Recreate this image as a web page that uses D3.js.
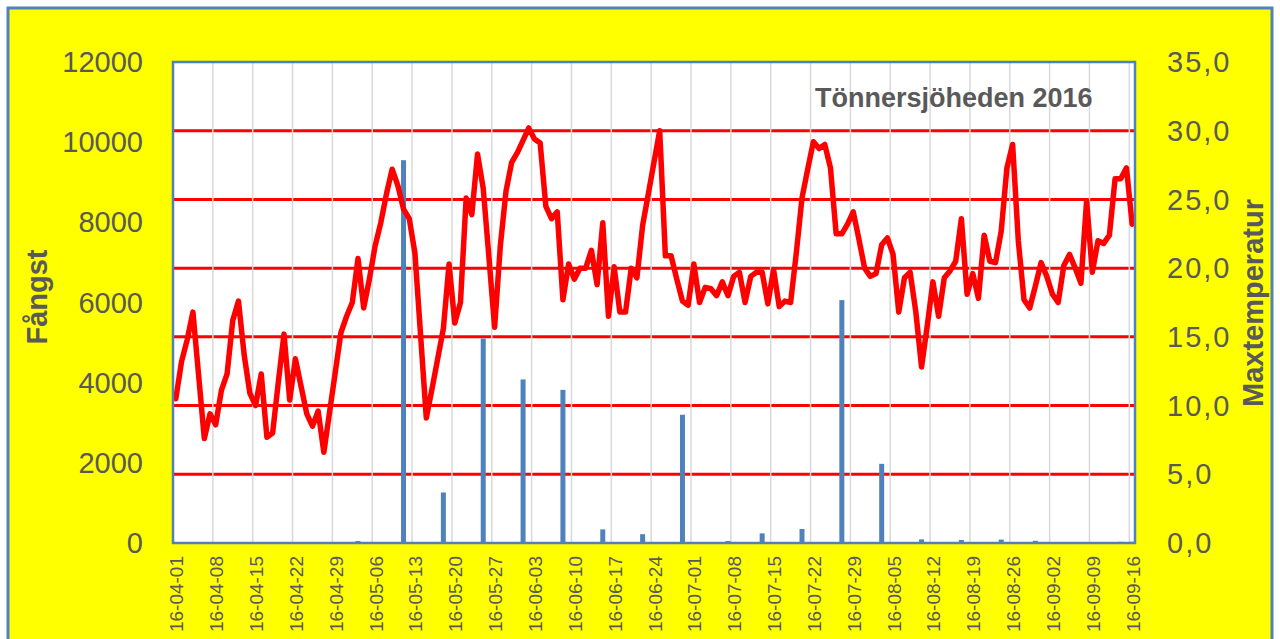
<!DOCTYPE html>
<html>
<head>
<meta charset="utf-8">
<script src="https://cdnjs.cloudflare.com/ajax/libs/d3/7.8.5/d3.min.js"></script>
<style>
  body { margin: 0; background: #ffffff; }
  text { font-family: "Liberation Sans", Arial, sans-serif; fill: #595959; }
</style>
</head>
<body>
<svg id="chart" width="1280" height="639"></svg>
<script>

// daily max temperature, one array per month (°C)
var tempApr = [10.5, 13.2, 14.8, 16.8, 12.2, 7.6, 9.4, 8.6, 11.1, 12.3,
  16.2, 17.6, 13.7, 10.9, 10.0, 12.3, 7.7, 8.0, 11.7, 15.2,
  10.4, 13.4, 11.4, 9.4, 8.5, 9.6, 6.6, 9.5, 12.4, 15.3];
var tempMay = [16.5, 17.5, 20.7, 17.1, 19.2, 21.6, 23.3, 25.4, 27.2, 26.0,
  24.3, 23.6, 21.1, 15.1, 9.1, 11.2, 13.4, 15.6, 20.3, 16.0,
  17.5, 25.1, 23.9, 28.3, 25.8, 20.8, 15.7, 21.6, 25.6, 27.7, 28.4];
var tempJun = [29.3, 30.2, 29.4, 29.1, 24.5, 23.6, 24.1, 17.7, 20.3, 19.2,
  20.0, 20.0, 21.3, 18.8, 23.3, 16.5, 20.1, 16.8, 16.8, 20.0,
  19.3, 23.1, 25.4, 27.7, 30.0, 20.9, 20.9, 19.2, 17.6, 17.3];
var tempJul = [20.3, 17.5, 18.6, 18.5, 18.0, 19.0, 18.0, 19.4, 19.7, 17.5,
  19.4, 19.7, 19.7, 17.4, 19.9, 17.2, 17.6, 17.5, 21.1, 25.1,
  27.2, 29.2, 28.7, 29.0, 27.3, 22.5, 22.5, 23.2, 24.1, 22.1, 20.0];
var tempAug = [19.4, 19.6, 21.7, 22.2, 21.0, 16.8, 19.3, 19.7, 16.8, 12.8,
  15.8, 19.0, 16.5, 19.3, 19.8, 20.5, 23.6, 18.1, 19.6, 17.8,
  22.4, 20.5, 20.4, 22.7, 27.3, 29.0, 22.0, 17.7, 17.1, 18.7, 20.4];
var tempSep = [19.4, 18.1, 17.5, 20.2, 21.0, 20.0, 18.9, 24.9, 19.7, 22.0,
  21.8, 22.4, 26.5, 26.5, 27.3, 23.2];

// catch (Fångst), only the days with a value
var catchDates = ["2016-04-13", "2016-04-20", "2016-05-03", "2016-05-11", "2016-05-18",
  "2016-05-25", "2016-06-01", "2016-06-08", "2016-06-15", "2016-06-22", "2016-06-29",
  "2016-07-07", "2016-07-13", "2016-07-20", "2016-07-27", "2016-08-03", "2016-08-10",
  "2016-08-17", "2016-08-24", "2016-08-30", "2016-09-14", "2016-09-16"];
var catchValues = [25, 25, 50, 9550, 1260, 5100, 4080, 3820, 340, 220, 3200,
  50, 240, 350, 6060, 1975, 90, 75, 85, 55, 30, 30];

var startDate = "2016-04-01";
var endDate = "2016-09-16";
var leftTicks = [0, 2000, 4000, 6000, 8000, 10000, 12000];
var rightTicks = [0, 5, 10, 15, 20, 25, 30, 35];
var gridTemps = [5, 10, 15, 20, 25, 30];

var chartTitle = "Tönnersjöheden 2016";
var leftTitle = "Fångst";
var rightTitle = "Maxtemperatur";

var parseDate = d3.utcParse("%Y-%m-%d");
var formatDate = d3.utcFormat("%y-%m-%d");
var formatTemp = d3.formatLocale({ decimal: ",", thousands: " ", grouping: [3], currency: ["", ""] }).format(".1f");

var start = parseDate(startDate);
var end = parseDate(endDate);
var days = d3.utcDay.range(start, d3.utcDay.offset(end, 1));
var temps = tempApr.concat(tempMay, tempJun, tempJul, tempAug, tempSep);

var tempData = days.map(function (d, i) { return { date: d, temp: temps[i] }; });
var catchData = catchDates.map(function (d, i) { return { date: parseDate(d), value: catchValues[i] }; });

var plotL = 173, plotR = 1135, plotT = 62, plotB = 543;

var svg = d3.select("#chart");

// yellow chart area with blue frame
svg.append("rect")
  .attr("x", 8).attr("y", 8)
  .attr("width", 1264).attr("height", 650)
  .attr("fill", "#ffff00")
  .attr("stroke", "#4f81bd")
  .attr("stroke-width", 3);

var x = d3.scaleUtc()
  .domain([start, d3.utcDay.offset(end, 1)])
  .range([plotL, plotR]);
var half = (x(d3.utcDay.offset(start, 1)) - x(start)) / 2;

var yLeft = d3.scaleLinear().domain([0, 12000]).range([plotB, plotT]);
var yRight = d3.scaleLinear().domain([0, 35]).range([plotB, plotT]);

// plot area
svg.append("rect")
  .attr("x", plotL).attr("y", plotT)
  .attr("width", plotR - plotL).attr("height", plotB - plotT)
  .attr("fill", "#ffffff");

svg.append("g")
  .selectAll("line")
  .data(gridTemps)
  .enter().append("line")
  .attr("x1", plotL).attr("x2", plotR)
  .attr("y1", function (d) { return yRight(d); })
  .attr("y2", function (d) { return yRight(d); })
  .attr("stroke", "#ff0000")
  .attr("stroke-width", 3);

var tickDates = d3.utcDay.range(start, d3.utcDay.offset(end, 1), 7);

svg.append("g")
  .selectAll("line")
  .data(tickDates)
  .enter().append("line")
  .attr("x1", function (d) { return x(d); })
  .attr("x2", function (d) { return x(d); })
  .attr("y1", plotT).attr("y2", plotB)
  .attr("stroke", "#d9d9d9")
  .attr("stroke-width", 1.5);

// bars
svg.append("g")
  .selectAll("rect")
  .data(catchData)
  .enter().append("rect")
  .attr("x", function (d) { return x(d.date) + half - 2.5; })
  .attr("width", 5)
  .attr("y", function (d) { return yLeft(d.value); })
  .attr("height", function (d) { return yLeft(0) - yLeft(d.value); })
  .attr("fill", "#4f81bd");

// temperature line
var line = d3.line()
  .x(function (d) { return x(d.date) + half; })
  .y(function (d) { return yRight(d.temp); });

svg.append("path")
  .datum(tempData)
  .attr("d", line)
  .attr("fill", "none")
  .attr("stroke", "#ff0000")
  .attr("stroke-width", 5.5)
  .attr("stroke-linejoin", "round")
  .attr("stroke-linecap", "round");

svg.append("rect")
  .attr("x", plotL).attr("y", plotT)
  .attr("width", plotR - plotL).attr("height", plotB - plotT)
  .attr("fill", "none")
  .attr("stroke", "#4f81bd")
  .attr("stroke-width", 2.5);

// axes labels
svg.append("g")
  .selectAll("text")
  .data(leftTicks)
  .enter().append("text")
  .attr("x", 143)
  .attr("y", function (d) { return yLeft(d); })
  .attr("dy", "0.35em")
  .attr("text-anchor", "end")
  .attr("font-size", 29)
  .text(function (d) { return d; });

svg.append("g")
  .selectAll("text")
  .data(rightTicks)
  .enter().append("text")
  .attr("x", 1167)
  .attr("y", function (d) { return yRight(d); })
  .attr("dy", "0.35em")
  .attr("text-anchor", "start")
  .attr("font-size", 29)
  .attr("letter-spacing", 2)
  .text(function (d) { return formatTemp(d); });

svg.append("g")
  .selectAll("text")
  .data(tickDates)
  .enter().append("text")
  .attr("transform", function (d) { return "translate(" + (x(d) + 3.7) + ",556) rotate(-90)"; })
  .attr("dy", "0.35em")
  .attr("text-anchor", "end")
  .attr("font-size", 19)
  .text(function (d) { return formatDate(d); });

svg.append("text")
  .attr("transform", "translate(37,297) rotate(-90)")
  .attr("dy", "0.35em")
  .attr("text-anchor", "middle")
  .attr("font-size", 29)
  .attr("font-weight", "bold")
  .text(leftTitle);

svg.append("text")
  .attr("transform", "translate(1253,303) rotate(-90)")
  .attr("dy", "0.35em")
  .attr("text-anchor", "middle")
  .attr("font-size", 29)
  .attr("font-weight", "bold")
  .text(rightTitle);

svg.append("text")
  .attr("x", 815)
  .attr("y", 107)
  .attr("font-size", 27)
  .attr("font-weight", "bold")
  .text(chartTitle);

</script>
</body>
</html>
